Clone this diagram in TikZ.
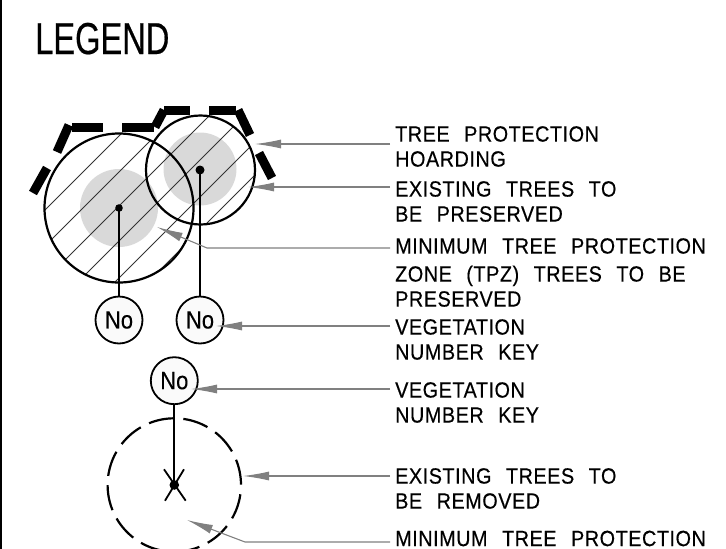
\documentclass[tikz,border=0pt]{standalone}
\usepackage{fontspec}
\setmainfont[FakeStretch=0.9,WordSpace=2.4,LetterSpace=2.5,FakeBold=0.4]{Liberation Sans}
\newfontfamily\titlefont[FakeStretch=0.73,FakeBold=0.4]{Liberation Sans}
\newfontfamily\keyfont[FakeStretch=0.88,FakeBold=0.2]{Liberation Sans}
\usetikzlibrary{arrows.meta,positioning}
\definecolor{leadergray}{HTML}{808080}
\definecolor{zonegray}{HTML}{D9D9D9}
\tikzset{
  every picture/.style={x=1pt,y=-1pt},
  note/.style={anchor=north west,inner sep=0pt,align=left,
    font=\fontsize{22}{25}\selectfont},
  keyno/.style={circle,draw,line width=1.8pt,fill=black!2,minimum size=47pt,
    inner sep=0pt,font=\keyfont\fontsize{25}{25}\selectfont},
  leader/.style={draw=leadergray,line width=1.1pt,
    -{Latex[length=26pt,width=9pt,color=leadergray]}},
  hoard/.style={line width=9pt},
  stem/.style={line width=2pt}
}
\begin{document}
\begin{tikzpicture}
  \useasboundingbox (0,0) rectangle (726,549);
  \clip (0,0) rectangle (726,549);

  % Left border and title.
  \draw[line width=2.4pt] (1,0) -- (1,549);
  \node[anchor=base west,inner sep=0pt,font=\titlefont\fontsize{44.7}{50}\selectfont]
    (title) at (35,54) {LEGEND};

  % Tree protection zones.
  \fill[zonegray] (119,208) circle (39);
  \fill[zonegray] (200,169) circle (36.5);

  % Hatching of the two existing trees.
  \begin{scope}
    \clip (119,208) circle (74.5) (200.5,170) circle (54.5);
    \foreach \c in {255,291,325,360,397,430} {
      \draw[line width=1pt,black!80] (\c-300,300) -- (\c,0);
    };
  \end{scope}
  \draw[line width=2.2pt] (119,208) circle (74.5);
  \draw[line width=2.2pt] (200.5,170) circle (54.5);

  % Hoarding.
  \draw[hoard] (47,168) -- (33,193);
  \draw[hoard] (69,125) -- (57,152);
  \draw[hoard] (72,127) -- (103,127);
  \draw[hoard] (122,127) -- (154,127);
  \draw[hoard] (164,110) -- (155,127);
  \draw[hoard] (164,110) -- (190,110);
  \draw[hoard] (209,110) -- (236,110);
  \draw[hoard] (238,110) -- (250,135);
  \draw[hoard] (259,153) -- (272,178);

  % Number keys.
  \node[keyno] (no1) at (119,320) {No};
  \node[keyno] (no2) at (200,320) {No};
  \node[keyno] (no3) at (174.3,380.7) {No};

  % Tree to be removed.
  \coordinate (gone) at (174.3,485);
  \draw[line width=2.2pt,dash pattern=on 25.6pt off 9.3pt,dash phase=25.6pt]
    (gone) circle (66.7);
  \draw[line width=1.8pt] (164,469.3) -- (185.7,500.7);
  \draw[line width=1.8pt] (184,469.3) -- (165,500.7);

  % Stems.
  \coordinate (dot1) at (119,208);
  \coordinate (dot2) at (200,170);
  \fill (dot1) circle (3.8);
  \fill (dot2) circle (4.5);
  \fill (gone) circle (4.8);
  \draw[stem] (dot1) -- (no1);
  \draw[stem] (dot2) -- (no2);
  \draw[stem] (no3) -- (gone);

  % Notes.
  \node[note] (hoarding) at (395,126) {TREE PROTECTION\\HOARDING};
  \node[note] (kept) at (395,181) {EXISTING TREES TO\\BE PRESERVED};
  \node[note] (tpz) at (395,238) {MINIMUM TREE PROTECTION\\[3pt]ZONE (TPZ) TREES TO BE\\PRESERVED};
  \node[note] (keyA) at (395,319) {VEGETATION\\NUMBER KEY};
  \node[note] (keyB) at (395,382) {VEGETATION\\NUMBER KEY};
  \node[note] (removed) at (395,468) {EXISTING TREES TO\\BE REMOVED};
  \node[note] (tpzB) at (395,530.5) {MINIMUM TREE PROTECTION};

  % Leaders.
  \coordinate (h0) at (390,144);
  \coordinate (h1) at (255,144);
  \coordinate (k0) at (390,187);
  \coordinate (k1) at (248,187);
  \coordinate (t0) at (390,248);
  \coordinate (t1) at (207,248);
  \coordinate (t2) at (157,227);
  \coordinate (a0) at (390,326);
  \coordinate (a1) at (216,326);
  \coordinate (b0) at (390,389);
  \coordinate (b1) at (191,389);
  \coordinate (r0) at (390,476);
  \coordinate (r1) at (243,476);
  \coordinate (m0) at (390,542);
  \coordinate (m1) at (245,542);
  \coordinate (m2) at (187,520);
  \draw[leader] (h0) -- (h1);
  \draw[leader] (k0) -- (k1);
  \draw[leader] (t0) -- (t1) -- (t2);
  \draw[leader] (a0) -- (a1);
  \draw[leader] (b0) -- (b1);
  \draw[leader] (r0) -- (r1);
  \draw[leader] (m0) -- (m1) -- (m2);
\end{tikzpicture}
\end{document}
